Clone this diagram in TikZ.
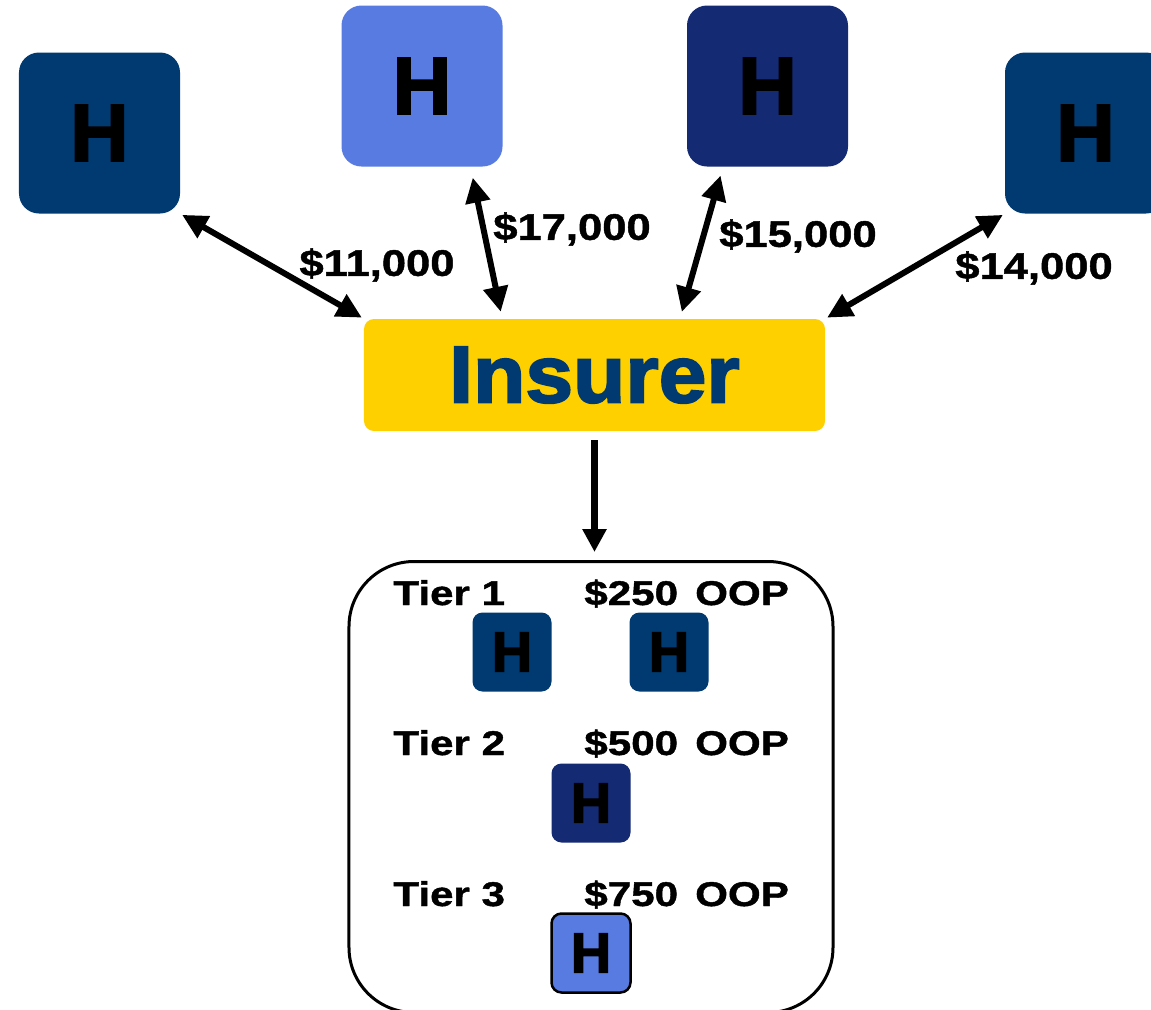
\documentclass[tikz,border=0pt]{standalone}
\usepackage{fontspec}
\setmainfont{Liberation Sans}
\newfontfamily\costsf[FakeStretch=1.18, FakeBold=1.2]{Liberation Sans Bold}
\newfontfamily\tiersf[FakeStretch=1.23, FakeBold=1.2]{Liberation Sans Bold}
\newfontfamily\heavysf[FakeBold=2.5]{Liberation Sans Bold}
\newfontfamily\inssf[FakeStretch=1.06, FakeBold=2.5]{Liberation Sans Bold}
\usetikzlibrary{calc}
\usetikzlibrary{arrows.meta}
\definecolor{hospblue}{HTML}{003A70}
\definecolor{hosplight}{HTML}{587BE2}
\definecolor{hospnavy}{HTML}{142A72}
\definecolor{insgold}{HTML}{FFD000}
\newcommand*{\bigsz }{32.2mm}
\newcommand*{\smlsz }{15.8mm}
\newcommand*{\insw  }{92.2mm}
\newcommand*{\insh  }{22.4mm}
\newcommand*{\tierw }{96.8mm}
\newcommand*{\tierh }{90.2mm}

\begin{document}
\begin{tikzpicture}[x=0.2mm, y=-0.2mm,
    hosp/.style={rounded corners=4mm, minimum width=\bigsz, minimum height=\bigsz, inner sep=0pt, font=\heavysf\fontsize{46}{46}\selectfont},
    minihosp/.style={rounded corners=2mm, minimum width=\smlsz, minimum height=\smlsz, inner sep=0pt, font=\heavysf\fontsize{32}{32}\selectfont},
    cost/.style={font=\costsf\fontsize{21}{21}\selectfont, inner sep=0pt},
    tier/.style={font=\tiersf\fontsize{19.5}{19.5}\selectfont, inner sep=0pt, anchor=base west},
    both/.style={line width=1.2mm, {Triangle[length=5mm,width=4.8mm]}-{Triangle[length=5mm,width=4.8mm]}}]
    	\clip (0,0) rectangle (1151,1010);
    	\fill [white] (0,0) rectangle (1151,1010);
        \node [hosp, fill=hospblue ] (h1) at (  99.5,133) {H};
        \node [hosp, fill=hosplight] (h2) at ( 422  , 86) {H};
        \node [hosp, fill=hospnavy ] (h3) at ( 767.5, 86) {H};
        \node [hosp, fill=hospblue ] (h4) at (1085.5,133) {H};
        \node [fill=insgold, rounded corners=2mm, minimum width=\insw, minimum height=\insh, inner sep=0pt, text=hospblue, font=\inssf\fontsize{46}{46}\selectfont] (ins) at (594.5,375) {Insurer};
        \draw [both, shorten <=0.4mm, shorten >=0.4mm] (h1.south east) -- (ins.north west);
        \draw [both, shorten <=2.2mm, shorten >=1.4mm] ($(h2.south)!0.6!(h2.south east)$) -- ($(ins.north)!0.4!(ins.north west)$);
        \draw [both, shorten <=1.8mm, shorten >=1.4mm] ($(h3.south)!0.55!(h3.south west)$) -- ($(ins.north)!0.37!(ins.north east)$);
        \draw [both, shorten <=0.4mm, shorten >=0.4mm] (h4.south west) -- (ins.north east);
        \node [cost] (c1) at ( 377,265) {\$11,000};
        \node [cost] (c2) at ( 572,229) {\$17,000};
        \node [cost] (c3) at ( 798,236) {\$15,000};
        \node [cost] (c4) at (1034,268) {\$14,000};
        \node [draw, line width=0.6mm, rounded corners=13mm, minimum width=\tierw, minimum height=\tierh, anchor=north] (tiers) at (591,560) {};
        \draw [line width=1.5mm, -{Triangle[length=4.6mm,width=4.6mm]}, shorten <=1.8mm, shorten >=1.6mm] (ins.south) -- (ins.south |- tiers.north);
        \node [tier] (t1) at (393,605) {Tier 1};
        \node [tier] (p1) at (584,605) {\$250\hspace{0.5em}OOP};
        \node [tier] (t2) at (393,755) {Tier 2};
        \node [tier] (p2) at (584,755) {\$500\hspace{0.5em}OOP};
        \node [tier] (t3) at (393,906) {Tier 3};
        \node [tier] (p3) at (584,906) {\$750\hspace{0.5em}OOP};
        \node [minihosp, fill=hospblue ] (s1a) at (512,652) {H};
        \node [minihosp, fill=hospblue ] (s1b) at (669,652) {H};
        \node [minihosp, fill=hospnavy ] (s2)  at (591,803) {H};
        \node [minihosp, fill=hosplight, draw=black, line width=0.5mm] (s3) at (591,953) {H};
    \end{tikzpicture}
\end{document}
